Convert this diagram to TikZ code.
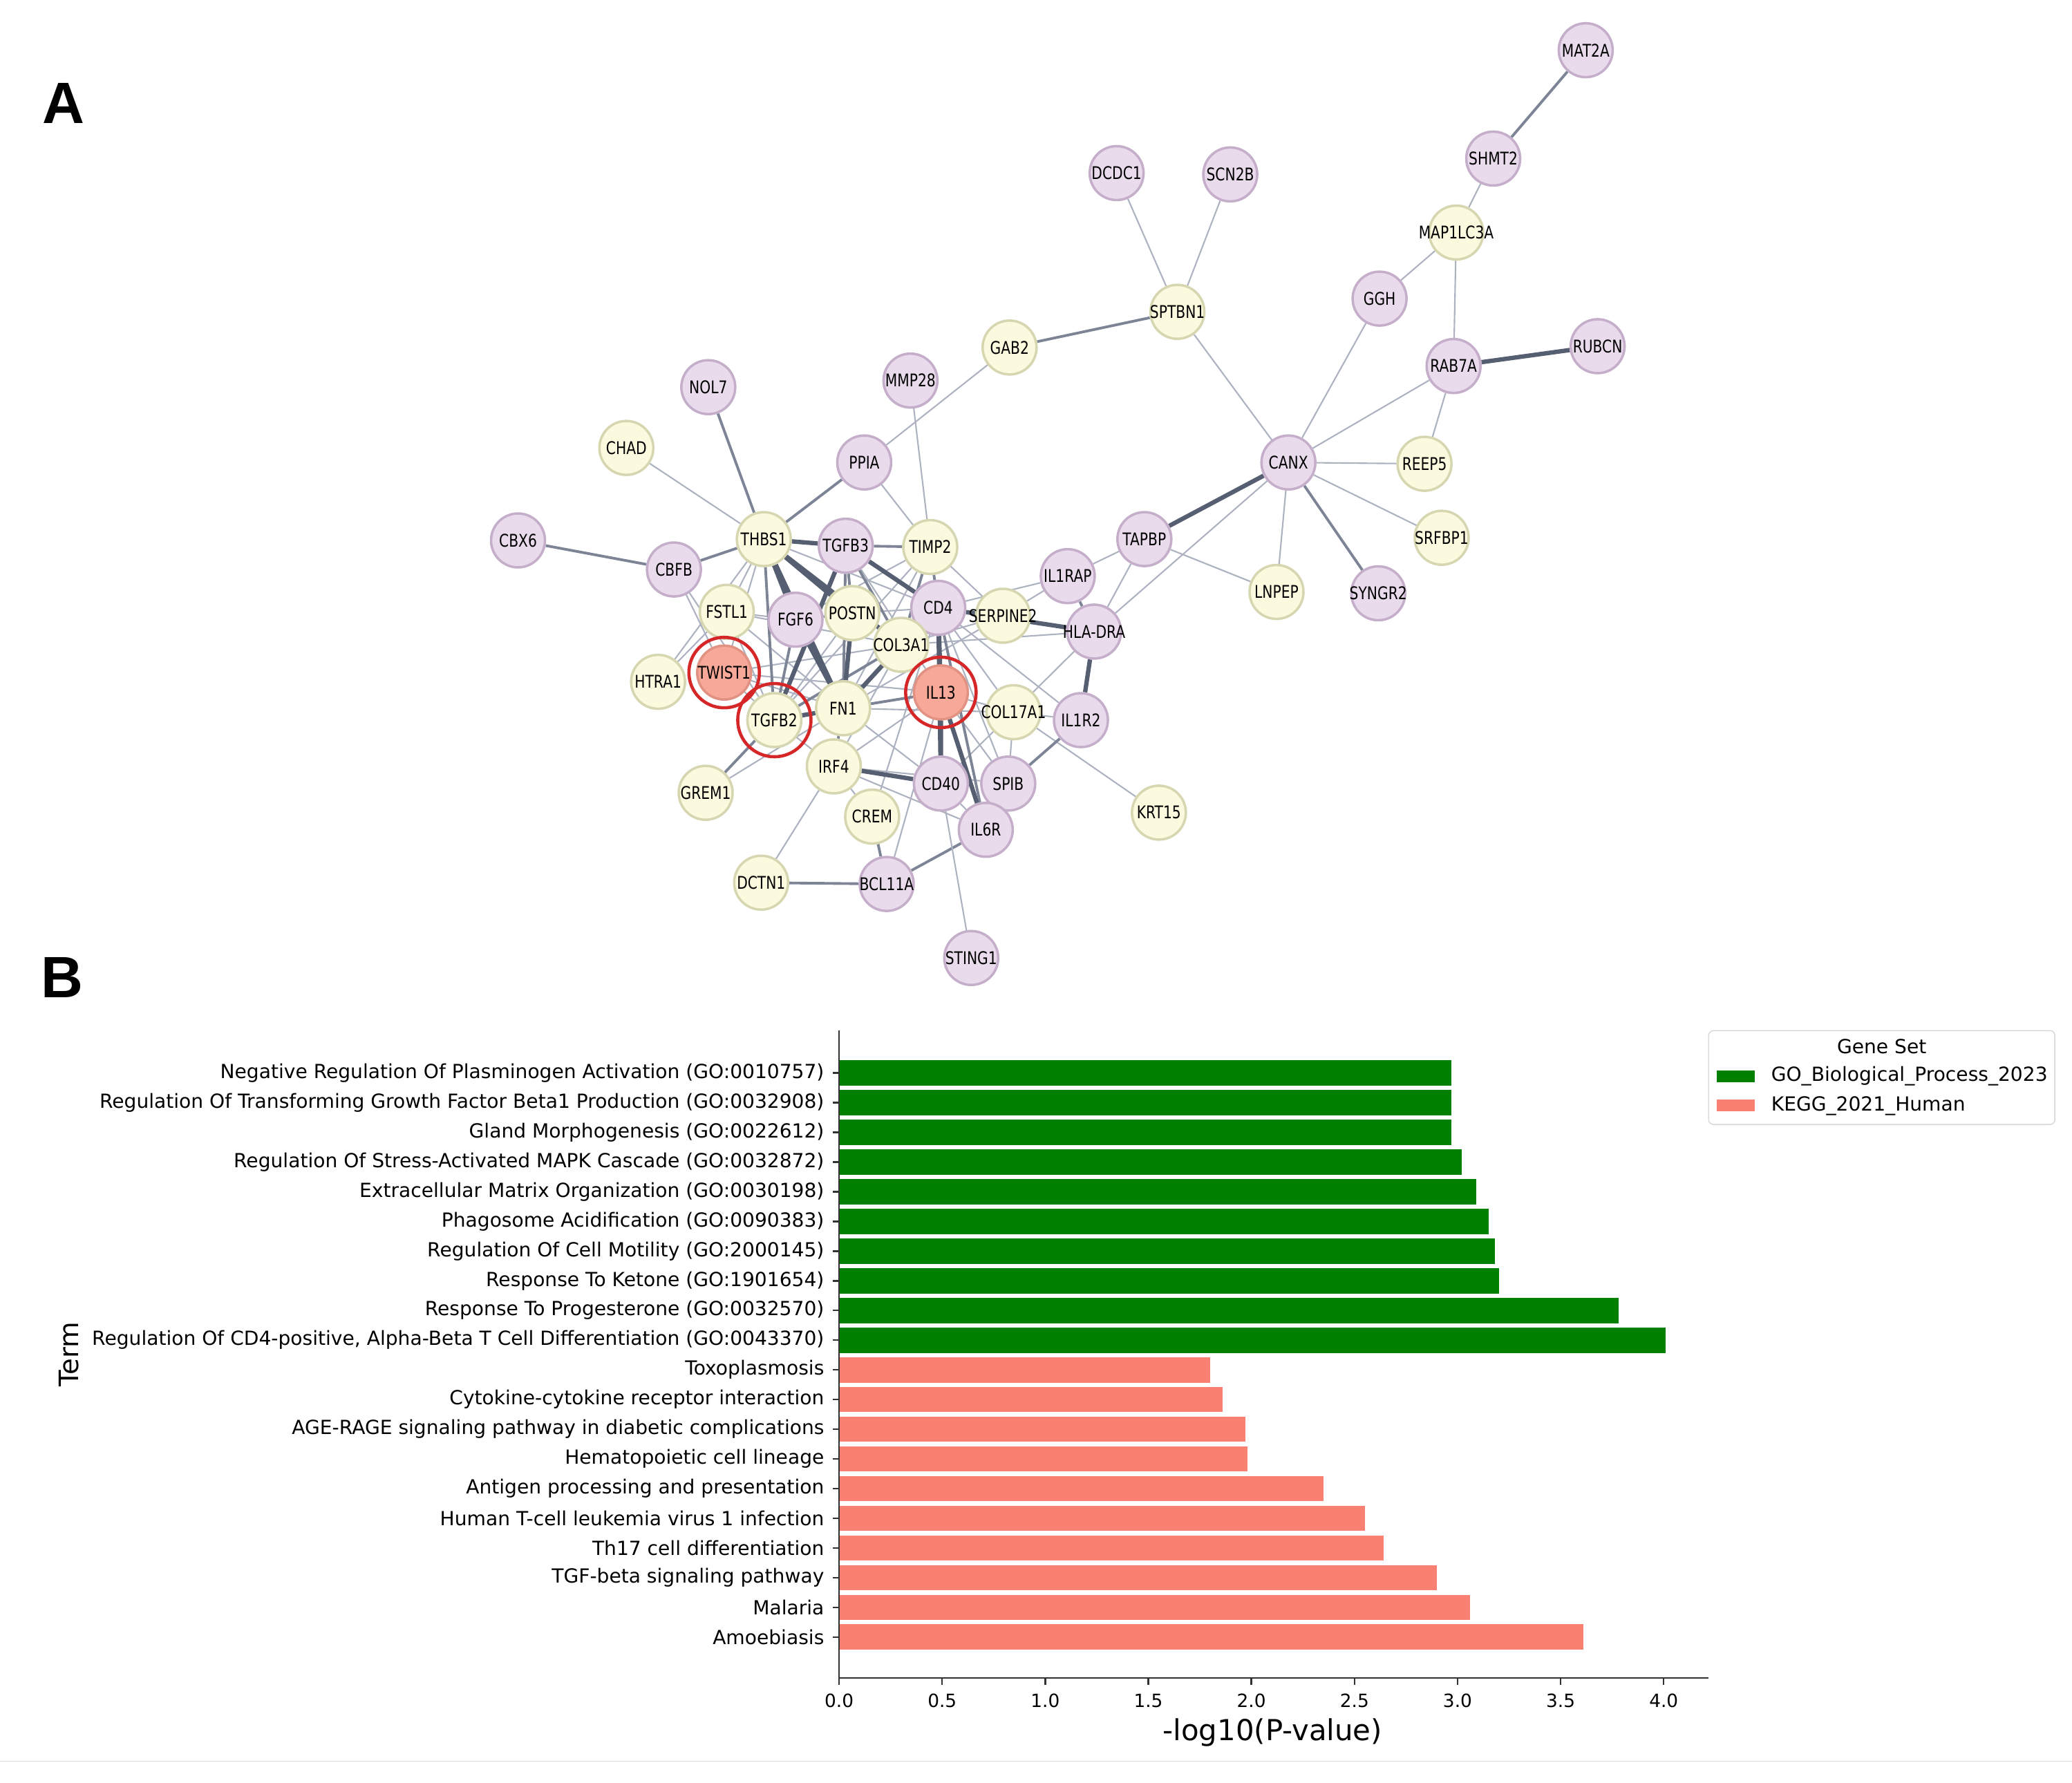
\documentclass[tikz,border=0pt]{standalone}
\usepackage{fontspec}
\setmainfont{DejaVu Sans}
\newfontfamily\netfont[FakeStretch=0.8]{DejaVu Sans}
\newfontfamily\panelfont{Liberation Sans}
\usetikzlibrary{
	backgrounds,
	positioning
}
\definecolor{purpleFill}{RGB}{233,218,236}
\definecolor{purpleLine}{RGB}{196,174,202}
\definecolor{yellowFill}{RGB}{251,249,222}
\definecolor{yellowLine}{RGB}{214,214,176}
\definecolor{redFill}{RGB}{248,168,152}
\definecolor{redLine}{RGB}{226,146,130}
\definecolor{ringRed}{RGB}{214,39,40}
\definecolor{edgeLight}{RGB}{172,178,192}
\definecolor{edgeMid}{RGB}{124,132,150}
\definecolor{edgeDark}{RGB}{86,95,113}
\definecolor{goGreen}{RGB}{0,128,0}
\definecolor{keggSalmon}{RGB}{250,128,114}
\definecolor{spine}{RGB}{50,50,50}
\definecolor{legLine}{RGB}{215,215,215}
\tikzset{
	gene/.style={circle,minimum size=0.78cm,inner sep=0pt,line width=1pt,font=\netfont\fontsize{7.2}{8}\selectfont},
	pgene/.style={gene,fill=purpleFill,draw=purpleLine},
	ygene/.style={gene,fill=yellowFill,draw=yellowLine},
	rgene/.style={gene,fill=redFill,draw=redLine},
	hubring/.style={draw=ringRed,line width=1.3pt},
	lnkweak/.style={draw=edgeLight,line width=0.6pt},
	lnkmid/.style={draw=edgeMid,line width=1.1pt},
	lnkstrong/.style={draw=edgeDark,line width=1.8pt},
	termlbl/.style={anchor=east,inner sep=0pt,font=\fontsize{8}{9.6}\selectfont},
	ticklbl/.style={inner sep=0pt,font=\fontsize{7.5}{9}\selectfont},
	leglbl/.style={anchor=west,inner sep=0pt,font=\fontsize{8}{9.6}\selectfont},
	spineln/.style={draw=spine,line width=0.7pt}
}
\newcommand{\tikzGene}[4][pgene]{\node (#3) at #2 [#1] {\makebox[0pt]{#4}};}
\newcommand{\tikzBar}[5]{%
	\fill[#3] (635,{812+22.47*#1-9.6}) rectangle ({635+156*#2},{812+22.47*#1+9.6});
	\draw[spineln] (630,{812+22.47*#1}) -- (635,{812+22.47*#1});
	\node (#4) at (624,{812+22.47*#1}) [termlbl] {#5};}
\newcommand{\tikzTick}[3]{%
	\draw[spineln] ({635+78*#1},1270) -- ({635+78*#1},1275);
	\node (#3) at ({635+78*#1},1287) [ticklbl] {#2};}

\begin{document}
\begin{tikzpicture}[x=0.01912cm,y=-0.01912cm]
	\useasboundingbox (0,0) rectangle (1568,1349);
	\draw[legLine] (0,1333) -- (1568,1333);

	% panel A: network
	\node (pA) at (48,78) [font=\panelfont\bfseries\fontsize{24}{28}\selectfont] {A};
	\tikzGene{(1200,38)}{mat2a}{MAT2A}
	\tikzGene{(1130,120)}{shmt2}{SHMT2}
	\tikzGene{(845,131)}{dcdc1}{DCDC1}
	\tikzGene{(931,132)}{scn2b}{SCN2B}
	\tikzGene[ygene]{(1102,176)}{map1lc3a}{MAP1LC3A}
	\tikzGene{(1044,226)}{ggh}{GGH}
	\tikzGene[ygene]{(891,236)}{sptbn1}{SPTBN1}
	\tikzGene[ygene]{(764,263)}{gab2}{GAB2}
	\tikzGene{(1209,262)}{rubcn}{RUBCN}
	\tikzGene{(1100,277)}{rab7a}{RAB7A}
	\tikzGene{(689,288)}{mmp28}{MMP28}
	\tikzGene{(536,293)}{nol7}{NOL7}
	\tikzGene[ygene]{(474,339)}{chad}{CHAD}
	\tikzGene{(654,350)}{ppia}{PPIA}
	\tikzGene{(975,350)}{canx}{CANX}
	\tikzGene[ygene]{(1078,351)}{reep5}{REEP5}
	\tikzGene{(392,409)}{cbx6}{CBX6}
	\tikzGene[ygene]{(578,408)}{thbs1}{THBS1}
	\tikzGene{(640,413)}{tgfb3}{TGFB3}
	\tikzGene[ygene]{(704,414)}{timp2}{TIMP2}
	\tikzGene{(866,408)}{tapbp}{TAPBP}
	\tikzGene[ygene]{(1091,407)}{srfbp1}{SRFBP1}
	\tikzGene{(510,431)}{cbfb}{CBFB}
	\tikzGene{(808,436)}{il1rap}{IL1RAP}
	\tikzGene[ygene]{(550,463)}{fstl1}{FSTL1}
	\tikzGene{(602,469)}{fgf6}{FGF6}
	\tikzGene[ygene]{(645,464)}{postn}{POSTN}
	\tikzGene{(710,460)}{cd4}{CD4}
	\tikzGene[ygene]{(759,466)}{serpine2}{SERPINE2}
	\tikzGene[ygene]{(966,448)}{lnpep}{LNPEP}
	\tikzGene{(1043,449)}{syngr2}{SYNGR2}
	\tikzGene{(828,478)}{hladra}{HLA-DRA}
	\tikzGene[ygene]{(682,488)}{col3a1}{COL3A1}
	\tikzGene[rgene]{(548,509)}{twist1}{TWIST1}
	\tikzGene[ygene]{(498,516)}{htra1}{HTRA1}
	\tikzGene[rgene]{(712,524)}{il13}{IL13}
	\tikzGene[ygene]{(638,536)}{fn1}{FN1}
	\tikzGene[ygene]{(586,545)}{tgfb2}{TGFB2}
	\tikzGene[ygene]{(767,539)}{col17a1}{COL17A1}
	\tikzGene{(818,545)}{il1r2}{IL1R2}
	\tikzGene[ygene]{(631,580)}{irf4}{IRF4}
	\tikzGene[ygene]{(534,600)}{grem1}{GREM1}
	\tikzGene{(712,593)}{cd40}{CD40}
	\tikzGene{(763,593)}{spib}{SPIB}
	\tikzGene[ygene]{(660,618)}{crem}{CREM}
	\tikzGene[ygene]{(877,615)}{krt15}{KRT15}
	\tikzGene{(746,628)}{il6r}{IL6R}
	\tikzGene[ygene]{(576,668)}{dctn1}{DCTN1}
	\tikzGene{(671,669)}{bcl11a}{BCL11A}
	\tikzGene{(735,725)}{sting1}{STING1}

	\draw[hubring] (twist1) circle (0.51cm);
	\draw[hubring] (tgfb2) circle (0.53cm);
	\draw[hubring] (il13) circle (0.51cm);

	\begin{scope}[on background layer]
		% periphery
		\draw[lnkweak] (shmt2) -- (map1lc3a) (map1lc3a) -- (ggh) (map1lc3a) -- (rab7a);
		\draw[lnkweak] (rab7a) -- (reep5) (rab7a) -- (canx) (ggh) -- (canx);
		\draw[lnkweak] (sptbn1) -- (canx) (sptbn1) -- (dcdc1) (sptbn1) -- (scn2b) (gab2) -- (ppia);
		\draw[lnkweak] (canx) -- (reep5) (canx) -- (srfbp1) (canx) -- (lnpep) (canx) -- (hladra);
		\draw[lnkweak] (tapbp) -- (lnpep) (tapbp) -- (il1rap) (tapbp) -- (hladra);
		\draw[lnkweak] (il1rap) -- (serpine2) (il1rap) -- (cd4) (hladra) -- (col3a1) (hladra) -- (cd40);
		\draw[lnkweak] (col17a1) -- (il1r2) (col17a1) -- (krt15) (chad) -- (thbs1);
		\draw[lnkweak] (ppia) -- (timp2) (mmp28) -- (timp2) (cbfb) -- (tgfb2) (cbfb) -- (twist1);
		\draw[lnkmid] (mat2a) -- (shmt2) (sptbn1) -- (gab2) (canx) -- (syngr2) (il1rap) -- (hladra);
		\draw[lnkmid] (cbx6) -- (cbfb) (cbfb) -- (thbs1) (nol7) -- (thbs1) (ppia) -- (thbs1);
		\draw[lnkmid] (il1r2) -- (spib) (dctn1) -- (bcl11a) (crem) -- (bcl11a) (bcl11a) -- (il6r);
		\draw[lnkstrong] (rab7a) -- (rubcn) (canx) -- (tapbp) (hladra) -- (il1r2) (cd4) -- (hladra);
		% dense core
		\draw[lnkweak] (thbs1) -- (fstl1) (thbs1) -- (twist1) (htra1) -- (thbs1) (thbs1) -- (cd4);
		\draw[lnkweak] (fstl1) -- (fgf6) (fstl1) -- (tgfb2) (fstl1) -- (fn1) (fstl1) -- (col3a1);
		\draw[lnkweak] (twist1) -- (fn1) (twist1) -- (col3a1) (twist1) -- (il13) (twist1) -- (tgfb2);
		\draw[lnkweak] (tgfb2) -- (irf4) (tgfb2) -- (il13) (grem1) -- (fn1) (postn) -- (tgfb2);
		\draw[lnkweak] (fn1) -- (cd40) (fn1) -- (serpine2) (fn1) -- (col17a1) (fn1) -- (cd4);
		\draw[lnkweak] (tgfb3) -- (il13) (timp2) -- (fgf6) (timp2) -- (tgfb2) (timp2) -- (serpine2);
		\draw[lnkweak] (timp2) -- (fn1) (cd4) -- (col17a1) (cd4) -- (il1r2) (cd4) -- (spib);
		\draw[lnkweak] (il13) -- (spib) (il13) -- (col17a1) (il13) -- (bcl11a) (il13) -- (irf4);
		\draw[lnkweak] (irf4) -- (crem) (irf4) -- (dctn1) (irf4) -- (spib) (irf4) -- (il6r);
		\draw[lnkweak] (irf4) -- (col3a1) (cd40) -- (sting1) (cd40) -- (il6r) (spib) -- (col17a1);
		\draw[lnkweak] (postn) -- (cd4) (col3a1) -- (serpine2) (crem) -- (cd4) (htra1) -- (fstl1);
		\draw[lnkmid] (tgfb3) -- (timp2) (tgfb2) -- (grem1) (fn1) -- (il13) (thbs1) -- (tgfb2);
		\draw[lnkmid] (tgfb3) -- (postn) (timp2) -- (cd4) (timp2) -- (col3a1) (postn) -- (fgf6);
		\draw[lnkmid] (fgf6) -- (tgfb2) (tgfb3) -- (fn1) (col3a1) -- (cd4) (irf4) -- (fn1);
		\draw[lnkmid] (tgfb2) -- (col3a1) (tgfb3) -- (col3a1) (cd4) -- (il6r);
		\draw[lnkstrong] (thbs1) -- (tgfb3) (thbs1) -- (fgf6) (thbs1) -- (fn1) (thbs1) -- (col3a1);
		\draw[lnkstrong] (tgfb3) -- (tgfb2) (tgfb3) -- (cd4) (fn1) -- (tgfb2) (fn1) -- (postn);
		\draw[lnkstrong] (fn1) -- (col3a1) (fgf6) -- (fn1) (cd4) -- (il13) (cd4) -- (cd40);
		\draw[lnkstrong] (il13) -- (cd40) (il13) -- (il6r) (irf4) -- (cd40) (thbs1) -- (postn);
	\end{scope}

	% panel B: enrichment bars
	\node (pB) at (47,740) [font=\panelfont\bfseries\fontsize{24}{28}\selectfont] {B};
	\tikzBar{0}{2.97}{goGreen}{go1}{Negative Regulation Of Plasminogen Activation (GO:0010757)}
	\tikzBar{1}{2.97}{goGreen}{go2}{Regulation Of Transforming Growth Factor Beta1 Production (GO:0032908)}
	\tikzBar{2}{2.97}{goGreen}{go3}{Gland Morphogenesis (GO:0022612)}
	\tikzBar{3}{3.02}{goGreen}{go4}{Regulation Of Stress-Activated MAPK Cascade (GO:0032872)}
	\tikzBar{4}{3.09}{goGreen}{go5}{Extracellular Matrix Organization (GO:0030198)}
	\tikzBar{5}{3.15}{goGreen}{go6}{Phagosome Acidification (GO:0090383)}
	\tikzBar{6}{3.18}{goGreen}{go7}{Regulation Of Cell Motility (GO:2000145)}
	\tikzBar{7}{3.20}{goGreen}{go8}{Response To Ketone (GO:1901654)}
	\tikzBar{8}{3.78}{goGreen}{go9}{Response To Progesterone (GO:0032570)}
	\tikzBar{9}{4.01}{goGreen}{go10}{Regulation Of CD4-positive, Alpha-Beta T Cell Differentiation (GO:0043370)}
	\tikzBar{10}{1.80}{keggSalmon}{kg1}{Toxoplasmosis}
	\tikzBar{11}{1.86}{keggSalmon}{kg2}{Cytokine-cytokine receptor interaction}
	\tikzBar{12}{1.97}{keggSalmon}{kg3}{AGE-RAGE signaling pathway in diabetic complications}
	\tikzBar{13}{1.98}{keggSalmon}{kg4}{Hematopoietic cell lineage}
	\tikzBar{14}{2.35}{keggSalmon}{kg5}{Antigen processing and presentation}
	\tikzBar{15}{2.55}{keggSalmon}{kg6}{Human T-cell leukemia virus 1 infection}
	\tikzBar{16}{2.64}{keggSalmon}{kg7}{Th17 cell differentiation}
	\tikzBar{17}{2.90}{keggSalmon}{kg8}{TGF-beta signaling pathway}
	\tikzBar{18}{3.06}{keggSalmon}{kg9}{Malaria}
	\tikzBar{19}{3.61}{keggSalmon}{kg10}{Amoebiasis}

	\draw[spineln] (635,780) -- (635,1270) -- (1293,1270);
	\tikzTick{0}{0.0}{xt0}
	\tikzTick{1}{0.5}{xt1}
	\tikzTick{2}{1.0}{xt2}
	\tikzTick{3}{1.5}{xt3}
	\tikzTick{4}{2.0}{xt4}
	\tikzTick{5}{2.5}{xt5}
	\tikzTick{6}{3.0}{xt6}
	\tikzTick{7}{3.5}{xt7}
	\tikzTick{8}{4.0}{xt8}
	\node (xlab) at (963,1311) [font=\fontsize{11.9}{14}\selectfont] {-log10(P-value)};
	\node (ylab) at (52,1025) [rotate=90,font=\fontsize{11}{13}\selectfont] {Term};

	% legend
	\draw[legLine,fill=white,rounded corners=2pt] (1293,780) rectangle (1555,851);
	\node (legtitle) at (1424,792) [font=\fontsize{8}{9.6}\selectfont] {Gene Set};
	\fill[goGreen] (1299,810) rectangle (1328,819);
	\node (leggo) at (1340,814.5) [leglbl] {GO\_Biological\_Process\_2023};
	\fill[keggSalmon] (1299,832) rectangle (1328,841);
	\node (legkegg) at (1340,837) [leglbl] {KEGG\_2021\_Human};
\end{tikzpicture}
\end{document}
